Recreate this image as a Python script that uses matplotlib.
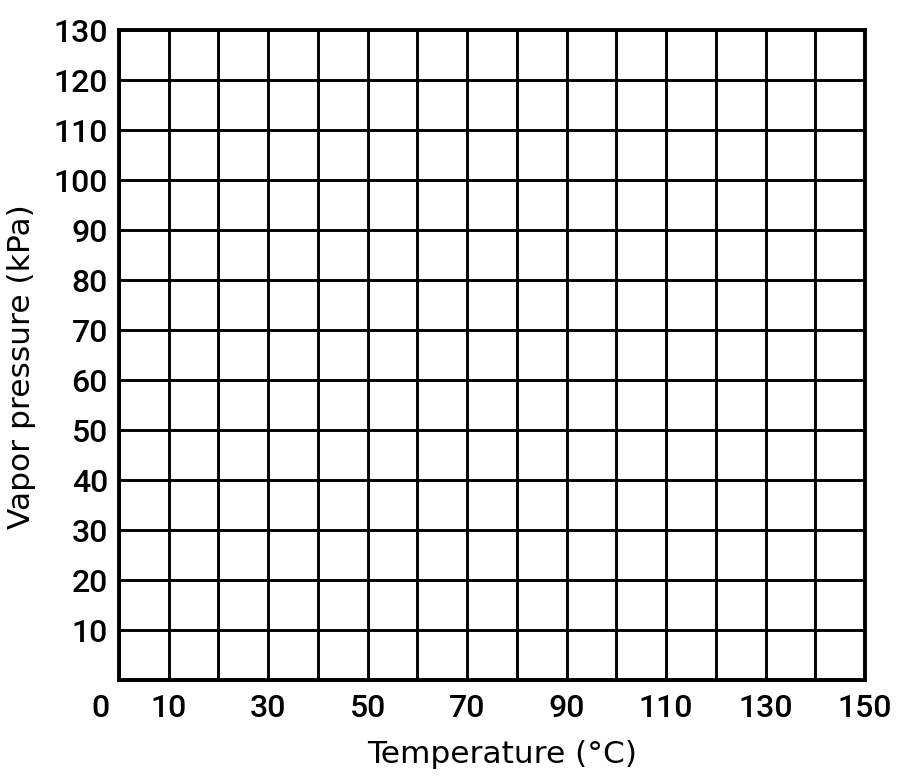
import matplotlib
matplotlib.use("Agg")
import matplotlib.pyplot as plt
import matplotlib.transforms as mtransforms

x_ticks = [0, 10, 30, 50, 70, 90, 110, 130, 150]
x_ticklabels = ["0", "10", "30", "50", "70", "90", "110", "130", "150"]
y_ticks = [10, 20, 30, 40, 50, 60, 70, 80, 90, 100, 110, 120, 130]
y_ticklabels = [str(v) for v in y_ticks]
x_grid = list(range(0, 151, 10))
y_grid = list(range(0, 131, 10))

plt.rcParams['font.family'] = ['Roboto', 'DejaVu Sans']
plt.rcParams['font.weight'] = 'medium'
fig = plt.figure(figsize=(9, 7.78), dpi=100)
ax = fig.add_axes([119/900, 1 - 680/778, (865-119)/900, (680-30)/778])
ax.set_xlim(0, 150)
ax.set_ylim(0, 130)

for xv in x_grid:
    ax.axvline(xv, color='black', lw=2.1, zorder=1)
for yv in y_grid:
    ax.axhline(yv, color='black', lw=2.1, zorder=1)

for s in ax.spines.values():
    s.set_linewidth(2.8)
    s.set_color('black')

ax.set_xticks(x_ticks)
ax.set_xticklabels(x_ticklabels)
ax.set_yticks(y_ticks)
ax.set_yticklabels(y_ticklabels)
ax.tick_params(axis='both', length=0, labelsize=23, colors='black')
ax.tick_params(axis='x', pad=10)
ax.tick_params(axis='y', pad=8)

# shift the "0" label left as in the reference
lbl0 = ax.get_xticklabels()[0]
lbl0.set_transform(lbl0.get_transform() + mtransforms.ScaledTranslation(-19/100, 0, fig.dpi_scale_trans))

ax.set_xlabel("Temperature (°C)", fontsize=22.5, family='DejaVu Sans', fontweight='normal')
ax.set_ylabel("Vapor pressure (kPa)", fontsize=22.5, family='DejaVu Sans', fontweight='normal')
ax.xaxis.set_label_coords(0.513, -0.092)
ax.yaxis.set_label_coords(-0.111, 0.4815)

fig.savefig("out.png", dpi=100, facecolor='white')
